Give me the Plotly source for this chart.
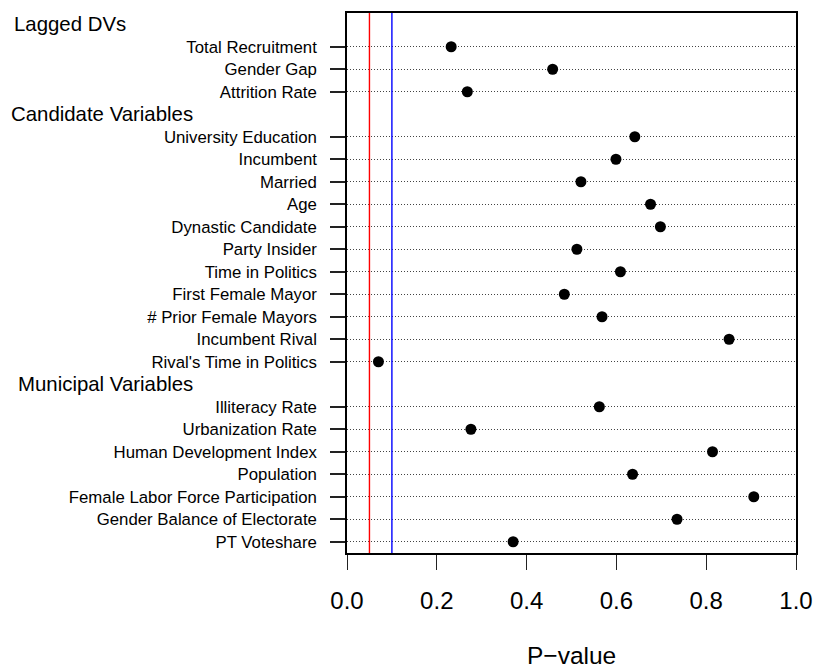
import plotly.graph_objects as go

# ---- data ----
group_names = ["Lagged DVs", "Candidate Variables", "Municipal Variables"]
group_items = [
    ["Total Recruitment", "Gender Gap", "Attrition Rate"],
    ["University Education", "Incumbent", "Married", "Age", "Dynastic Candidate",
     "Party Insider", "Time in Politics", "First Female Mayor", "# Prior Female Mayors",
     "Incumbent Rival", "Rival's Time in Politics"],
    ["Illiteracy Rate", "Urbanization Rate", "Human Development Index", "Population",
     "Female Labor Force Participation", "Gender Balance of Electorate", "PT Voteshare"],
]
group_pvalues = [
    [0.232, 0.458, 0.268],
    [0.641, 0.599, 0.521, 0.676, 0.698, 0.512, 0.609, 0.484, 0.568, 0.851, 0.070],
    [0.562, 0.276, 0.814, 0.636, 0.906, 0.735, 0.370],
]
threshold_values = [0.05, 0.10]
threshold_colors = ["red", "blue"]
x_ticks = [0.0, 0.2, 0.4, 0.6, 0.8, 1.0]
x_ticklabels = ["0.0", "0.2", "0.4", "0.6", "0.8", "1.0"]
x_title = "P\u2212value"

# ---- layout constants ----
W, H = 816, 668
L, R, T, B = 347, 20, 13, 115
plot_w = W - L - R
plot_h = H - T - B
header_left_px = [12, 9, 16]
FONT = "Liberation Sans, Arial, Helvetica, sans-serif"

# build rows (top to bottom)
n_rows = sum(1 + len(items) for items in group_items)
labels, ys, xs = [], [], []
header_rows = []
i = 0
for g, items in enumerate(group_items):
    header_rows.append(n_rows - i)
    i += 1
    for name, p in zip(items, group_pvalues[g]):
        labels.append(name)
        ys.append(n_rows - i)
        xs.append(p)
        i += 1

fig = go.Figure()
fig.add_trace(go.Scatter(
    x=xs, y=ys, mode="markers",
    marker=dict(color="black", size=11, line=dict(width=0)),
    showlegend=False, hoverinfo="skip",
))

for v, c in zip(threshold_values, threshold_colors):
    fig.add_shape(type="line", x0=v, x1=v, y0=0, y1=1, xref="x", yref="paper",
                  line=dict(color=c, width=1.4))

for g, name in enumerate(group_names):
    fig.add_annotation(
        text=name, xref="paper", yref="y",
        x=(header_left_px[g] - L) / plot_w, y=header_rows[g],
        xanchor="left", yanchor="middle", showarrow=False,
        font=dict(family=FONT, size=20.4, color="black"),
    )

fig.add_annotation(
    text=x_title, xref="paper", yref="paper",
    x=0.5, y=(H - B - 655) / plot_h, xanchor="center", yanchor="middle",
    showarrow=False, font=dict(family=FONT, size=24.5, color="black"),
)

fig.update_xaxes(
    range=[0, 1], tickvals=x_ticks, ticktext=x_ticklabels,
    ticks="outside", ticklen=15, tickwidth=1.3, tickcolor="#222",
    showline=True, linecolor="black", linewidth=1.5, mirror=True,
    showgrid=False, zeroline=False,
    tickfont=dict(family=FONT, size=24, color="black"),
    ticklabelstandoff=10,
)
fig.update_yaxes(
    range=[0.5, n_rows + 0.5], tickvals=ys, ticktext=labels,
    ticks="outside", ticklen=15, tickwidth=1.5, tickcolor="#222",
    showline=True, linecolor="black", linewidth=1.5, mirror=True,
    showgrid=True, gridcolor="#444", gridwidth=1, griddash="1px,2px",
    zeroline=False,
    tickfont=dict(family=FONT, size=16.8, color="black"),
    ticklabelstandoff=10,
)
fig.update_layout(
    width=W, height=H,
    margin=dict(l=L, r=R, t=T, b=B, autoexpand=False),
    paper_bgcolor="white", plot_bgcolor="white",
    font=dict(family=FONT, color="black"),
)
fig.write_html(
    "out.html",
    config={"displayModeBar": False},
    post_script="document.body.style.margin='0';document.body.style.overflow='hidden';",
)
